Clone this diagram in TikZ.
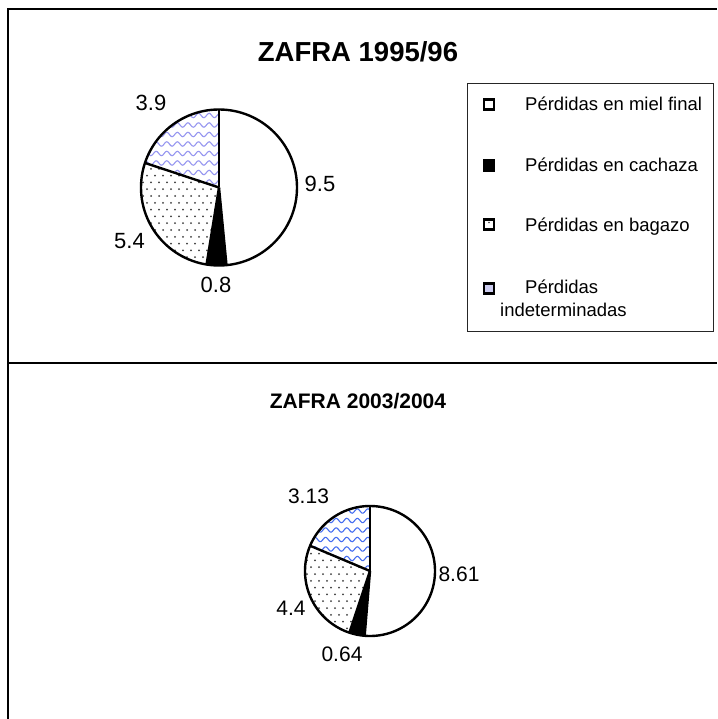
\documentclass[tikz,border=0pt]{standalone}
\usepackage{fontspec}
\setmainfont{Liberation Sans}
\definecolor{waveA}{RGB}{150,150,240}
\definecolor{waveB}{RGB}{70,110,240}
\definecolor{dotc}{RGB}{60,60,60}
\definecolor{legblue}{RGB}{205,205,240}
\begin{document}
\begin{tikzpicture}[x=1pt,y=-1pt,
  frame/.style={line width=1.4pt,black},
  pieline/.style={line width=2.4pt,black,line join=round},
  lbl/.style={inner sep=0pt,font=\fontsize{22}{22}\selectfont},
  lblb/.style={inner sep=0pt,font=\fontsize{21}{21}\selectfont},
  legtxt/.style={inner sep=0pt,anchor=base west,font=\fontsize{18.5}{18.5}\selectfont},
  legmark/.style={line width=2.2pt,black},
  titleA/.style={inner sep=0pt,anchor=base,font=\bfseries\fontsize{27.5}{27.5}\selectfont},
  titleB/.style={inner sep=0pt,anchor=base,font=\bfseries\fontsize{21}{21}\selectfont}]
\useasboundingbox[fill=white] (0,0) rectangle (717,719);
% frame
\draw[frame] (8,719) -- (8,9) -- (717,9);
\draw[frame] (8,363) -- (717,363);
% titles
\node[titleA] (t1) at (358,62) {ZAFRA 1995/96};
\node[titleB] (t2) at (358,408) {ZAFRA 2003/2004};
% ---------- top pie ----------
\coordinate (c1) at (219,187.5);
\def\R{78pt}
\fill[black] (c1) -- ++(-84.49:\R) arc[start angle=-84.49,end angle=-99.18,radius=\R] -- cycle;
\begin{scope}
\clip (c1) -- ++(-99.18:\R) arc[start angle=-99.18,end angle=-198.37,radius=\R] -- cycle;
\foreach \i in {0,...,14} \foreach \j in {0,...,11}
  \fill[dotc] ({139+\j*8+mod(\i,2)*4},{162+\i*6.8}) circle[radius=1pt];
\end{scope}
\begin{scope}
\clip (c1) -- ++(161.63:\R) arc[start angle=161.63,end angle=90,radius=\R] -- cycle;
\foreach \k in {0,...,9}
  \draw[waveA,line width=1.1pt] plot[domain=138:222,samples=80,smooth] (\x,{106+\k*9.5+2.2*sin(\x*34)});
\end{scope}
\draw[pieline] (c1) circle[radius=\R];
\draw[pieline] (c1) -- ++(90:\R);
\draw[pieline] (c1) -- ++(-84.49:\R);
\draw[pieline] (c1) -- ++(-99.18:\R);
\draw[pieline] (c1) -- ++(161.63:\R);
\node[lbl] (a1) at (151,102.5) {3.9};
\node[lbl] (a2) at (320,183.5) {9.5};
\node[lbl] (a3) at (129.5,241.5) {5.4};
\node[lbl] (a4) at (216,285) {0.8};
% ---------- bottom pie ----------
\coordinate (c2) at (370,571);
\def\R{65pt}
\fill[black] (c2) -- ++(-94.72:\R) arc[start angle=-94.72,end angle=-108.45,radius=\R] -- cycle;
\begin{scope}
\clip (c2) -- ++(-108.45:\R) arc[start angle=-108.45,end angle=-202.85,radius=\R] -- cycle;
\foreach \i in {0,...,14} \foreach \j in {0,...,10}
  \fill[dotc] ({303+\j*8+mod(\i,2)*4},{540+\i*6.8}) circle[radius=1pt];
\end{scope}
\begin{scope}
\clip (c2) -- ++(157.15:\R) arc[start angle=157.15,end angle=90,radius=\R] -- cycle;
\foreach \k in {0,...,8}
  \draw[waveB,line width=1.1pt] plot[domain=300:375,samples=70,smooth] (\x,{511+\k*9.5+2.2*sin(\x*34)});
\end{scope}
\draw[pieline] (c2) circle[radius=\R];
\draw[pieline] (c2) -- ++(90:\R);
\draw[pieline] (c2) -- ++(-94.72:\R);
\draw[pieline] (c2) -- ++(-108.45:\R);
\draw[pieline] (c2) -- ++(157.15:\R);
\node[lblb] (b1) at (308.5,496) {3.13};
\node[lblb] (b2) at (459,574) {8.61};
\node[lblb] (b3) at (291,608) {4.4};
\node[lblb] (b4) at (342,654.5) {0.64};
% ---------- legend ----------
\draw[line width=0.9pt,black!85] (467,83) rectangle (713,331);
\draw[legmark,fill=white] (484,99.5) rectangle (494,109.5);
\draw[legmark,fill=black] (484,160.5) rectangle (494,170.5);
\draw[legmark,fill=white] (484,219.5) rectangle (494,229.5);
\fill[dotc] (489,222.5) circle[radius=0.8pt];
\draw[legmark,fill=legblue] (484,283.5) rectangle (494,293.5);
\node[legtxt] (l1) at (525,110.7) {Pérdidas en miel final};
\node[legtxt] (l2) at (525,171.5) {Pérdidas en cachaza};
\node[legtxt] (l3) at (525,231) {Pérdidas en bagazo};
\node[legtxt] (l4) at (525,293) {Pérdidas};
\node[legtxt] (l5) at (500,316) {indeterminadas};
\end{tikzpicture}
\end{document}
